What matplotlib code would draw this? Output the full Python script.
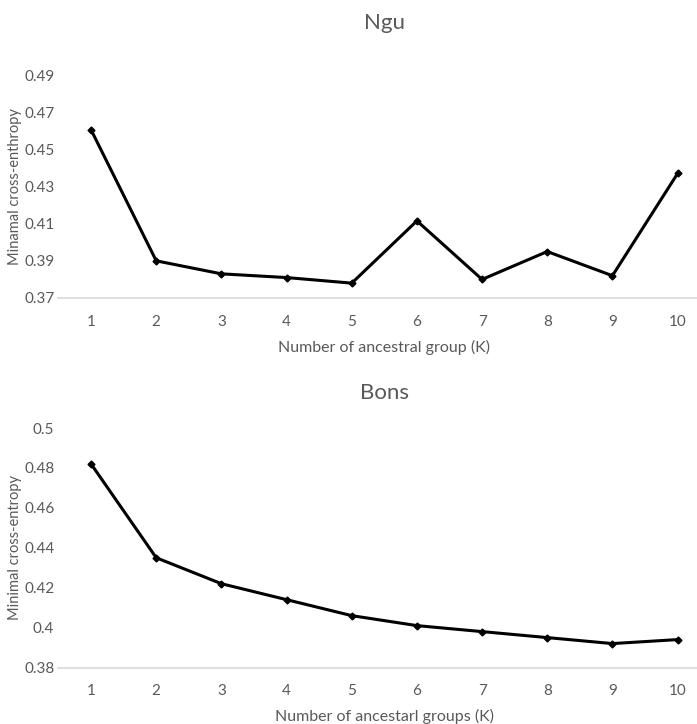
import numpy as np
import matplotlib.pyplot as plt

plt.rcParams['font.family'] = ['Lato', 'DejaVu Sans']

k = [1, 2, 3, 4, 5, 6, 7, 8, 9, 10]
ngu = [0.4605, 0.390, 0.383, 0.381, 0.378, 0.4115, 0.380, 0.395, 0.382, 0.437]
bons = [0.482, 0.435, 0.422, 0.414, 0.406, 0.401, 0.398, 0.395, 0.392, 0.394]

ngu_ticks = [0.37, 0.39, 0.41, 0.43, 0.45, 0.47, 0.49]
bons_ticks = [0.38, 0.40, 0.42, 0.44, 0.46, 0.48, 0.50]
bons_labels = ['0.38', '0.4', '0.42', '0.44', '0.46', '0.48', '0.5']

grey = '#595959'

fig = plt.figure(figsize=(6.97, 7.24), dpi=100)
ax1 = fig.add_axes([0.0839, 0.5884, 0.935, 0.308])
ax2 = fig.add_axes([0.0839, 0.078, 0.935, 0.3308])


def style(ax, ticks, labels, title, xlabel, ylabel, tpad):
    ax.set_xlim(0.5, 10.5)
    ax.set_ylim(ticks[0], ticks[-1])
    ax.set_xticks(k)
    ax.set_xticklabels([str(v) for v in k])
    ax.set_yticks(ticks)
    ax.set_yticklabels(labels)
    for s in ['top', 'right', 'left']:
        ax.spines[s].set_visible(False)
    ax.spines['bottom'].set_color('#d9d9d9')
    ax.spines['bottom'].set_linewidth(1.2)
    ax.tick_params(length=0, labelsize=11, labelcolor=grey)
    ax.tick_params(axis='y', pad=3)
    ax.tick_params(axis='x', pad=12)
    ax.set_title(title, fontsize=16, color=grey, pad=tpad)
    ax.set_xlabel(xlabel, fontsize=11.5, color=grey, labelpad=8)
    ax.set_ylabel(ylabel, fontsize=10.5, color=grey)
    ax.yaxis.set_label_coords(-0.056, 0.5)
    ax.patch.set_alpha(0)


ax1.plot(k, ngu, color='black', lw=2.2, marker='D', markersize=3.5, clip_on=False)
style(ax1, ngu_ticks, [f'{t:.2f}' for t in ngu_ticks], 'Ngu',
      'Number of ancestral group (K)', 'Minamal cross-enthropy', 33)

ax2.plot(k, bons, color='black', lw=2.2, marker='D', markersize=3.5, clip_on=False)
style(ax2, bons_ticks, bons_labels, 'Bons',
      'Number of ancestarl groups (K)', 'Minimal cross-entropy', 21)

fig.savefig('out.png', dpi=100)
